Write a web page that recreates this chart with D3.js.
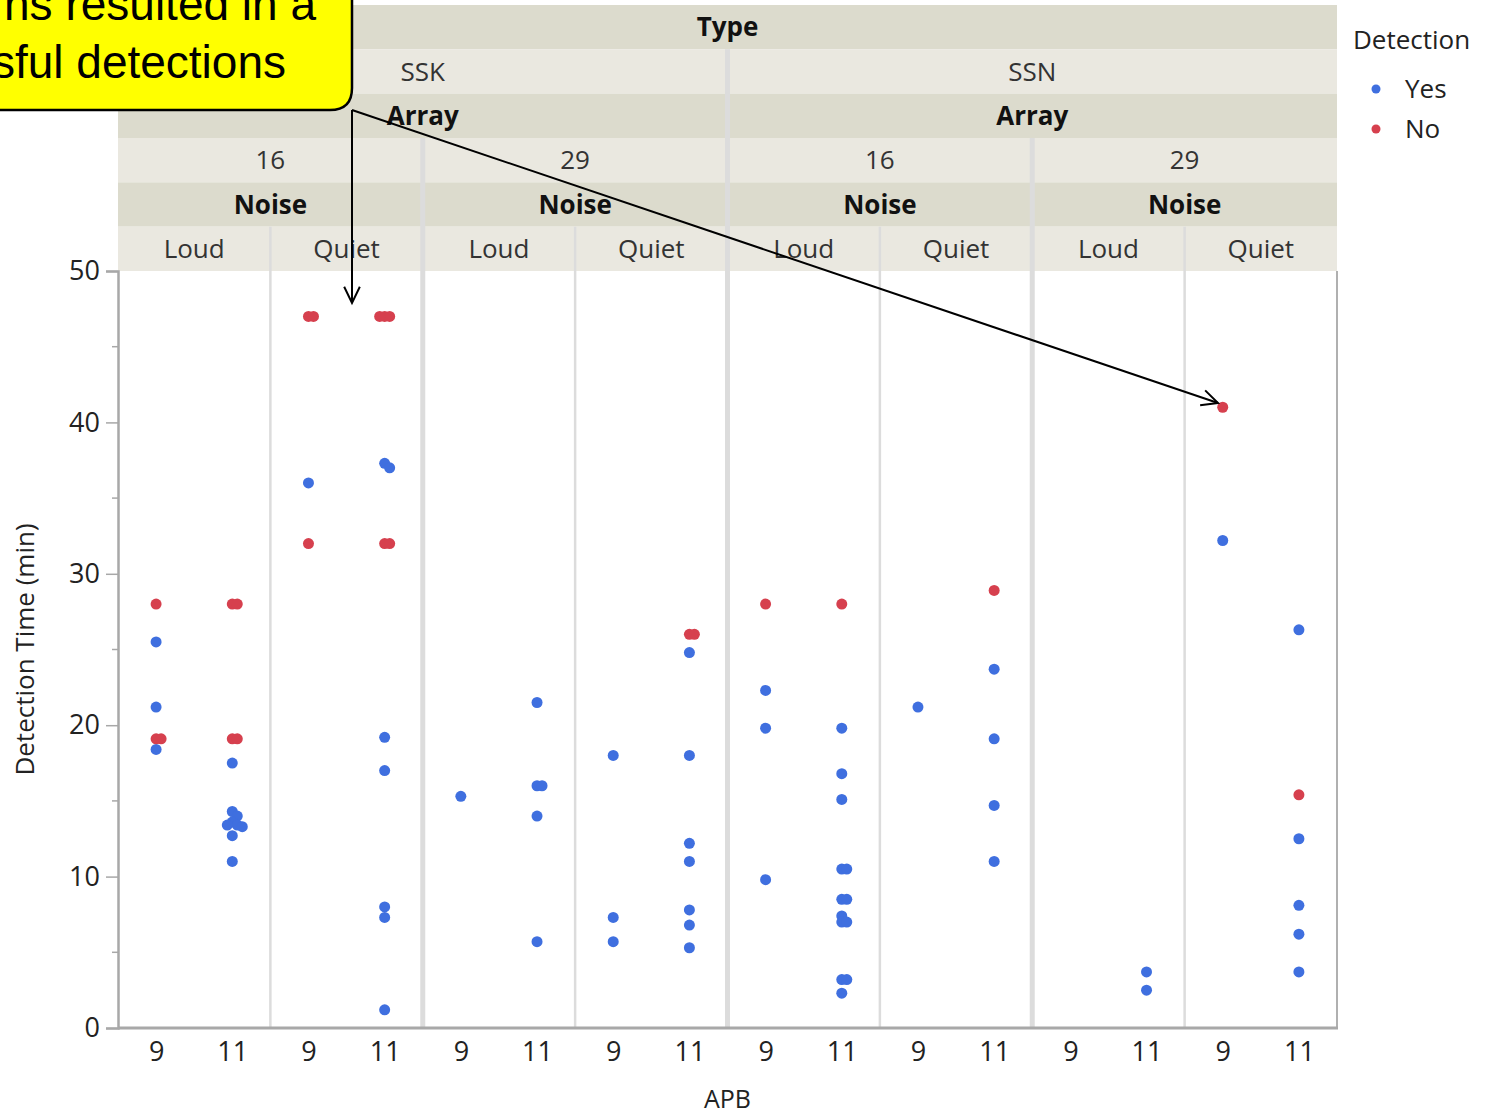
<!DOCTYPE html>
<html>
<head>
<meta charset="utf-8">
<script src="https://cdn.jsdelivr.net/npm/d3@7"></script>
<style>
  html,body{margin:0;padding:0;background:#fff;}
  svg{display:block;font-family:"Open Sans",sans-serif;}
</style>
</head>
<body>
<svg id="chart" width="1485" height="1117"></svg>
<script>
/* ---------- data ---------- */
const types  = ["SSK","SSN"];
const arrays = ["16","29"];
const noises = ["Loud","Quiet"];
const apbs   = ["9","11"];
const yTicks = [0,10,20,30,40,50];
const detections = ["Yes","No"];

// [APB, Detection, time (min)]
const ssk16Loud = [
  ["9","No",28.0],["9","Yes",25.5],["9","Yes",21.2],["9","No",19.1],["9","No",19.1],["9","Yes",18.4],
  ["11","No",28.0],["11","No",28.0],["11","No",19.1],["11","No",19.1],["11","Yes",17.5],
  ["11","Yes",14.3],["11","Yes",14.0],["11","Yes",13.6],["11","Yes",13.4],["11","Yes",13.4],
  ["11","Yes",13.3],["11","Yes",12.7],["11","Yes",11.0]
];
const ssk16Quiet = [
  ["9","No",47.0],["9","No",47.0],["9","Yes",36.0],["9","No",32.0],
  ["11","No",47.0],["11","No",47.0],["11","No",47.0],["11","Yes",37.3],["11","Yes",37.0],
  ["11","No",32.0],["11","No",32.0],["11","Yes",19.2],["11","Yes",17.0],["11","Yes",8.0],
  ["11","Yes",7.3],["11","Yes",1.2]
];
const ssk29Loud = [
  ["9","Yes",15.3],
  ["11","Yes",21.5],["11","Yes",16.0],["11","Yes",16.0],["11","Yes",14.0],["11","Yes",5.7]
];
const ssk29Quiet = [
  ["9","Yes",18.0],["9","Yes",7.3],["9","Yes",5.7],
  ["11","No",26.0],["11","No",26.0],["11","Yes",24.8],["11","Yes",18.0],["11","Yes",12.2],
  ["11","Yes",11.0],["11","Yes",7.8],["11","Yes",6.8],["11","Yes",5.3]
];
const ssn16Loud = [
  ["9","No",28.0],["9","Yes",22.3],["9","Yes",19.8],["9","Yes",9.8],
  ["11","No",28.0],["11","Yes",19.8],["11","Yes",16.8],["11","Yes",15.1],["11","Yes",10.5],
  ["11","Yes",10.5],["11","Yes",8.5],["11","Yes",8.5],["11","Yes",7.4],["11","Yes",7.0],
  ["11","Yes",7.0],["11","Yes",3.2],["11","Yes",3.2],["11","Yes",2.3]
];
const ssn16Quiet = [
  ["9","Yes",21.2],
  ["11","No",28.9],["11","Yes",23.7],["11","Yes",19.1],["11","Yes",14.7],["11","Yes",11.0]
];
const ssn29Loud = [
  ["11","Yes",3.7],["11","Yes",2.5]
];
const ssn29Quiet = [
  ["9","No",41.0],["9","Yes",32.2],
  ["11","Yes",26.3],["11","No",15.4],["11","Yes",12.5],["11","Yes",8.1],["11","Yes",6.2],["11","Yes",3.7]
];

const panelData = {
  "SSK|16|Loud":ssk16Loud, "SSK|16|Quiet":ssk16Quiet,
  "SSK|29|Loud":ssk29Loud, "SSK|29|Quiet":ssk29Quiet,
  "SSN|16|Loud":ssn16Loud, "SSN|16|Quiet":ssn16Quiet,
  "SSN|29|Loud":ssn29Loud, "SSN|29|Quiet":ssn29Quiet
};

/* ---------- layout ---------- */
const L=118, R=1337, T=271, B=1028, HT=5;
const rowH=(T-HT)/6;
const colors={Yes:"#3f6fdf",No:"#d6404e"};
const dark="#dcdbcd", light="#eae8e0", sep="#dcdcdc";

const panels=[];
types.forEach(t=>arrays.forEach(a=>noises.forEach(n=>panels.push(`${t}|${a}|${n}`))));

const px=d3.scaleBand().domain(panels).range([L,R]);
const inner=d3.scalePoint().domain(apbs).range([0,px.bandwidth()]).padding(0.5);
const y=d3.scaleLinear().domain([0,50]).range([B,T]);

const svg=d3.select("#chart");

/* ---------- header ---------- */
const hdr=svg.append("g");
function cell(x0,x1,row,fill,label,bold){
  hdr.append("rect").attr("x",x0).attr("y",HT+row*rowH).attr("width",x1-x0).attr("height",rowH).attr("fill",fill);
  hdr.append("text").attr("x",(x0+x1)/2).attr("y",HT+row*rowH+rowH/2+9)
     .attr("text-anchor","middle").attr("font-size",26)
     .attr("font-weight",bold?700:400).attr("fill",bold?"#111":"#333").text(label);
}
const span=(prefix)=>{
  const ps=panels.filter(p=>p.startsWith(prefix));
  return [px(ps[0]),px(ps[ps.length-1])+px.bandwidth()];
};
cell(L,R,0,dark,"Type",true);
types.forEach(t=>{
  const [a,b]=span(t+"|");
  cell(a,b,1,light,t,false);
  cell(a,b,2,dark,"Array",true);
  arrays.forEach(ar=>{
    const [c,d]=span(`${t}|${ar}|`);
    cell(c,d,3,light,ar,false);
    cell(c,d,4,dark,"Noise",true);
    noises.forEach(n=>{
      const [e,f]=span(`${t}|${ar}|${n}`);
      cell(e,f,5,light,n,false);
    });
  });
});

/* ---------- panel separators ---------- */
panels.forEach((p,i)=>{
  if(i===0) return;
  const x=px(p);
  const prev=panels[i-1].split("|"), cur=p.split("|");
  let top, w;
  if(prev[0]!==cur[0]){ top=HT+rowH; w=5; }
  else if(prev[1]!==cur[1]){ top=HT+3*rowH; w=5; }
  else { top=HT+5*rowH; w=2.5; }
  svg.append("line").attr("x1",x).attr("x2",x).attr("y1",top).attr("y2",B)
     .attr("stroke",sep).attr("stroke-width",w);
});
svg.append("line").attr("x1",R).attr("x2",R).attr("y1",T).attr("y2",B+1)
   .attr("stroke","#b0b0b0").attr("stroke-width",2);

/* ---------- y axis ---------- */
const yAx=svg.append("g").attr("transform",`translate(${L},0)`)
  .call(d3.axisLeft(y).tickValues(yTicks).tickSize(12).tickPadding(6).tickFormat(d3.format("d")));
yAx.select(".domain").attr("stroke","#a8a8a8").attr("stroke-width",2.5);
yAx.selectAll(".tick line").attr("stroke","#a8a8a8").attr("stroke-width",1.5);
yAx.selectAll(".tick text").attr("font-size",27).attr("fill","#222").attr("font-family","Open Sans");
const minor=d3.range(5,50,10);
yAx.selectAll(".minor").data(minor).join("line").attr("class","minor")
   .attr("x1",-6).attr("x2",0).attr("y1",d=>y(d)).attr("y2",d=>y(d))
   .attr("stroke","#a8a8a8").attr("stroke-width",1.5);

svg.append("text").attr("transform",`translate(34,${(T+B)/2}) rotate(-90)`)
   .attr("text-anchor","middle").attr("font-size",26).attr("fill","#222")
   .text("Detection Time (min)");

/* ---------- x axes ---------- */
svg.append("line").attr("x1",L).attr("x2",R+1).attr("y1",B).attr("y2",B)
   .attr("stroke","#a8a8a8").attr("stroke-width",3);
panels.forEach(p=>{
  const g=svg.append("g").attr("transform",`translate(${px(p)},${B})`)
    .call(d3.axisBottom(inner).tickSize(0).tickPadding(14));
  g.select(".domain").remove();
  g.selectAll(".tick text").attr("font-size",27).attr("fill","#222").attr("font-family","Open Sans");
});
svg.append("text").attr("x",(L+R)/2).attr("y",1108).attr("text-anchor","middle")
   .attr("font-size",25).attr("fill","#222").text("APB");

/* ---------- points (dodge overlapping dots sideways) ---------- */
const rad=5.5;
const pts=[];
panels.forEach(p=>{
  const rows=panelData[p];
  apbs.forEach(a=>{
    const cx=px(p)+inner(a);
    const placed=[];
    rows.filter(r=>r[0]===a).forEach(r=>{
      const cy=y(r[2]);
      const cands=[0,5,-5,10,-10,15,-15];
      let off=cands.find(o=>placed.every(q=>Math.hypot(q.x-(cx+o),q.y-cy)>=5));
      if(off===undefined) off=0;
      const pt={x:cx+off,y:cy,det:r[1]};
      placed.push(pt); pts.push(pt);
    });
  });
});
pts.sort((a,b)=>(a.det==="No")-(b.det==="No"));
svg.append("g").selectAll("circle").data(pts).join("circle")
   .attr("cx",d=>d.x).attr("cy",d=>d.y).attr("r",rad)
   .attr("fill",d=>colors[d.det]);

/* ---------- legend ---------- */
const lg=svg.append("g").attr("transform","translate(1353,0)");
lg.append("text").attr("x",0).attr("y",49).attr("font-size",26).attr("fill","#222").text("Detection");
detections.forEach((d,i)=>{
  lg.append("circle").attr("cx",23).attr("cy",89+i*40).attr("r",4.5).attr("fill",colors[d]);
  lg.append("text").attr("x",52).attr("y",98+i*40).attr("font-size",26).attr("fill","#222").text(d);
});

/* ---------- callout + arrows ---------- */
const co=svg.append("g");
co.append("path")
  .attr("d","M-10,-10 L352,-10 L352,88 Q352,110 330,110 L-10,110 Z")
  .attr("fill","#ffff00").attr("stroke","#000").attr("stroke-width",2.5);
co.append("text").attr("x",316).attr("y",20).attr("text-anchor","end")
  .attr("font-family","Liberation Sans, Arial, sans-serif").attr("font-size",46).text("ns resulted in a");
co.append("text").attr("x",286).attr("y",78).attr("text-anchor","end")
  .attr("font-family","Liberation Sans, Arial, sans-serif").attr("font-size",46).text("sful detections");

function arrow(x0,y0,x1,y1){
  svg.append("line").attr("x1",x0).attr("y1",y0).attr("x2",x1).attr("y2",y1)
     .attr("stroke","#000").attr("stroke-width",2);
  const ang=Math.atan2(y1-y0,x1-x0), len=18, spread=0.45;
  const p1=[x1-len*Math.cos(ang-spread),y1-len*Math.sin(ang-spread)];
  const p2=[x1-len*Math.cos(ang+spread),y1-len*Math.sin(ang+spread)];
  svg.append("path").attr("d",`M${p1}L${x1},${y1}L${p2}`)
     .attr("fill","none").attr("stroke","#000").attr("stroke-width",2);
}
arrow(352,110,352,303);
arrow(352,110,1218,403);
</script>
</body>
</html>
